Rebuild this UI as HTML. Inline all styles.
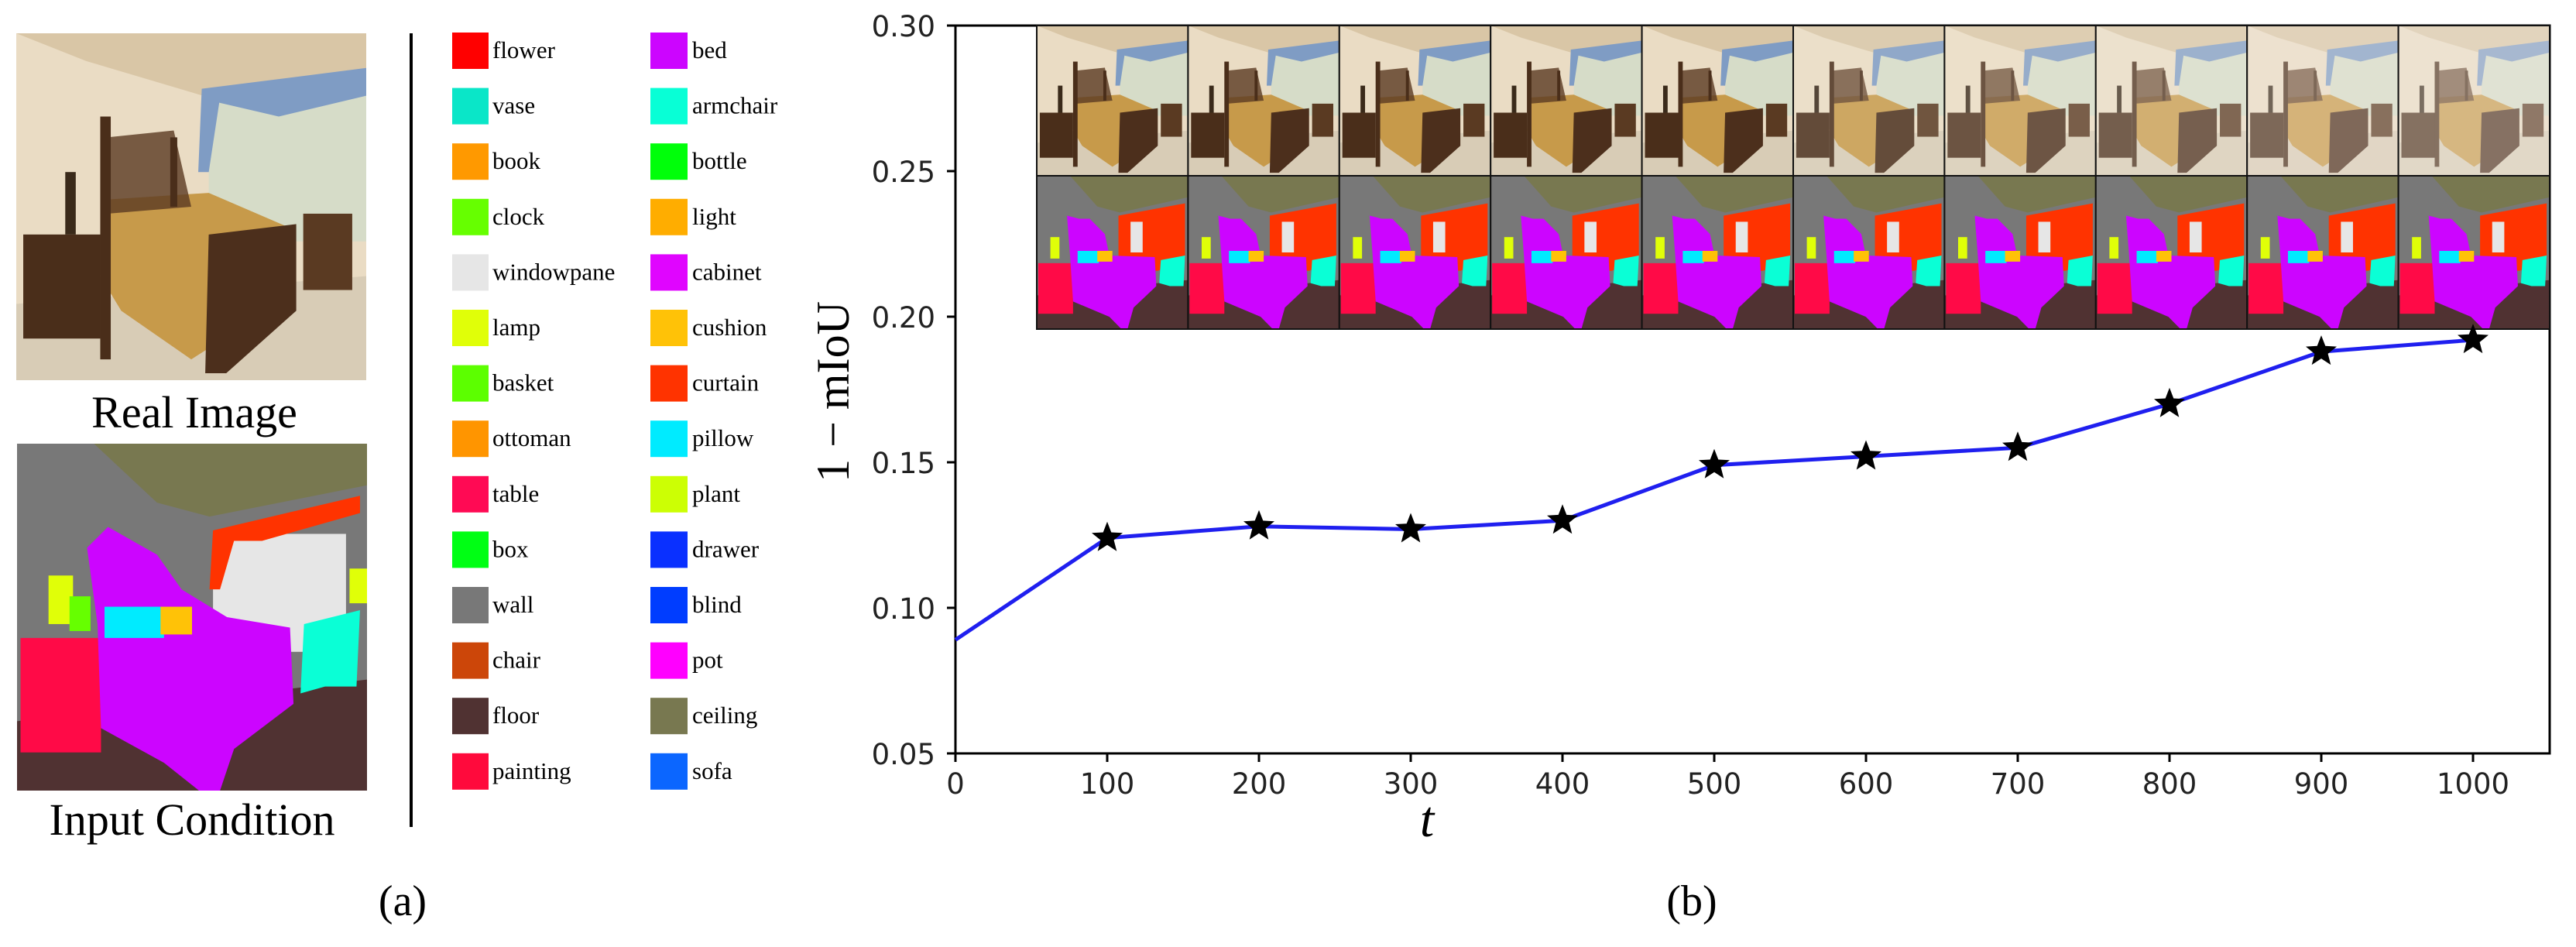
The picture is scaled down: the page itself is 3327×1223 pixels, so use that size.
<!DOCTYPE html>
<html><head><meta charset="utf-8">
<style>
html,body{margin:0;padding:0;background:#fff;width:3327px;height:1223px;overflow:hidden}
svg{display:block}
.ser{font-family:"Liberation Serif","DejaVu Serif",serif}
.san{font-family:"DejaVu Sans","Liberation Sans",sans-serif}
</style></head>
<body>
<svg id="root" width="3327" height="1223" viewBox="0 0 3327 1223" xmlns="http://www.w3.org/2000/svg">
<defs>
  <g id="photo">
    <rect x="0" y="0" width="100" height="100" fill="#eadcc4"/>
    <polygon points="0,0 100,0 100,14 60,20 20,8" fill="#d9c6a6"/>
    <polygon points="55,16 100,12 100,60 55,60" fill="#d6dcc8"/>
    <polygon points="53,16 100,10 100,18 75,24 58,20 55,40 52,40" fill="#7f9cc4"/>
    <polygon points="0,78 100,70 100,100 0,100" fill="#d8ccb6"/>
    <rect x="2" y="58" width="22" height="30" fill="#4a2e1a"/>
    <rect x="14" y="40" width="3" height="18" fill="#3a2a1a"/>
    <polygon points="25,48 55,46 78,56 78,76 50,94 30,80 24,70" fill="#c79a4a"/>
    <polygon points="26,30 45,28 50,50 26,52" fill="#5a3a22" opacity="0.8"/>
    <rect x="24" y="24" width="3" height="70" fill="#4a2e1a"/>
    <rect x="44" y="30" width="2" height="20" fill="#4a2e1a"/>
    <polygon points="55,58 80,55 80,80 60,98 54,98" fill="#4c2f1c"/>
    <rect x="82" y="52" width="14" height="22" fill="#5a3a22"/>
  </g>
  <g id="seg">
    <rect x="0" y="0" width="100" height="100" fill="#787878"/>
    <polygon points="22,0 100,0 100,12 55,21 40,17" fill="#787850"/>
    <rect x="56" y="26" width="38" height="34" fill="#e6e6e6"/>
    <polygon points="56,25 98,15 98,20 70,28 62,28 58,42 55,42" fill="#ff3300"/>
    <polygon points="0,80 100,68 100,100 0,100" fill="#503232"/>
    <rect x="1" y="56" width="23" height="33" fill="#ff0a47"/>
    <polygon points="20,30 26,24 33,28 40,32 47,42 60,50 78,53 79,75 62,88 58,100 52,100 42,92 24,82 23,52" fill="#cc05ff"/>
    <rect x="25" y="47" width="17" height="9" fill="#00ebff"/>
    <rect x="41" y="47" width="9" height="8" fill="#ffc207"/>
    <polygon points="82,52 98,48 97,70 88,70 81,72" fill="#0affd6"/>
    <rect x="9" y="38" width="7" height="14" fill="#e0ff08"/>
    <rect x="95" y="36" width="5" height="10" fill="#e0ff08"/>
    <rect x="15" y="44" width="6" height="10" fill="#66ff00"/>
  </g>
  <g id="tseg">
    <rect x="0" y="0" width="100" height="100" fill="#787878"/>
    <polygon points="22,0 100,0 100,14 55,24 40,20" fill="#787850"/>
    <polygon points="54,26 98,18 98,55 80,62 60,62 54,55" fill="#ff3300"/>
    <rect x="62" y="30" width="8" height="20" fill="#e6e6e6"/>
    <polygon points="0,78 100,68 100,100 0,100" fill="#503232"/>
    <rect x="1" y="57" width="23" height="33" fill="#ff0a47"/>
    <polygon points="20,26 28,28 35,28 45,38 48,52 78,53 79,72 64,86 60,100 56,100 48,92 24,82 22,52" fill="#cc05ff"/>
    <rect x="27" y="49" width="14" height="8" fill="#00ebff"/>
    <rect x="40" y="49" width="10" height="7" fill="#ffc207"/>
    <polygon points="82,55 98,52 97,72 88,72 81,70" fill="#0affd6"/>
    <rect x="9" y="40" width="6" height="14" fill="#e0ff08"/>
  </g>
</defs>

<!-- Panel (a) -->
<g>
  <svg x="21" y="43" width="452" height="448" viewBox="0 0 100 100" preserveAspectRatio="none"><use href="#photo"/></svg>
</g>
<text class="ser" x="251" y="552" font-size="58" text-anchor="middle">Real Image</text>
<g>
  <svg x="22" y="573" width="452" height="448" viewBox="0 0 100 100" preserveAspectRatio="none"><use href="#seg"/></svg>
</g>
<text class="ser" x="248" y="1078" font-size="58" text-anchor="middle">Input Condition</text>
<rect x="529" y="43" width="4" height="1025" fill="#000"/>
<g id="legend"></g>
<text class="ser" x="520" y="1182" font-size="56" text-anchor="middle">(a)</text>

<!-- Panel (b) -->
<g id="chart"></g>
<text class="ser" x="2185" y="1182" font-size="56" text-anchor="middle">(b)</text>
</svg>

<script>
const NS='http://www.w3.org/2000/svg';
// ---- legend data ----
const legendCol1=['flower','vase','book','clock','windowpane','lamp','basket','ottoman','table','box','wall','chair','floor','painting'];
const legendCol1Colors=['#ff0000','#0ae6c8','#ff9900','#66ff00','#e6e6e6','#e0ff08','#5cff00','#ff9500','#ff0a54','#00ff14','#787878','#cc4609','#503232','#ff0a3c'];
const legendCol2=['bed','armchair','bottle','light','cabinet','cushion','curtain','pillow','plant','drawer','blind','pot','ceiling','sofa'];
const legendCol2Colors=['#cc05ff','#08ffd6','#00ff0a','#ffad00','#e005ff','#ffc207','#ff3300','#00ebff','#ccff04','#0a30ff','#003dff','#ff00ff','#787850','#0b66ff'];
// ---- chart data ----
const steps=[0,100,200,300,400,500,600,700,800,900,1000];
const values=[0.089,0.124,0.128,0.127,0.130,0.149,0.152,0.155,0.170,0.188,0.192];
const xTicks=[0,100,200,300,400,500,600,700,800,900,1000];
const yTicks=[0.05,0.10,0.15,0.20,0.25,0.30];
const yTickLabels=['0.05','0.10','0.15','0.20','0.25','0.30'];

function mk(tag,attrs,parent){const e=document.createElementNS(NS,tag);for(const k in attrs)e.setAttribute(k,attrs[k]);parent.appendChild(e);return e;}

// legend
const lg=document.getElementById('legend');
const rowY0=42, rowDy=71.6;
legendCol1.forEach((name,i)=>{
  const y=rowY0+i*rowDy;
  const r=mk('rect',{x:584,y:y,width:47,height:47,fill:legendCol1Colors[i]},lg);
  
  
  const t=mk('text',{x:636,y:y+33,'font-size':31,class:'ser'},lg);
  t.textContent=name;
  
  
});
legendCol2.forEach((name,i)=>{
  const y=rowY0+i*rowDy;
  const r=mk('rect',{x:840,y:y,width:48,height:47,fill:legendCol2Colors[i]},lg);
  
  
  const t=mk('text',{x:894,y:y+33,'font-size':31,class:'ser'},lg);
  t.textContent=name;
  
  
});

// chart
const ch=document.getElementById('chart');
const X0=1234, X1=3194, XR=3293, YT=33, YB=973;
const xs=v=>X0+(v-0)/(1000-0)*(X1-X0);
const ys=v=>YB-(v-0.05)/(0.30-0.05)*(YB-YT);
const ax=mk('path',{d:`M${X0},${YT} L${X0},${YB} L${XR},${YB} L${XR},${YT} L${X0},${YT}`,fill:'none',stroke:'#000','stroke-width':3},ch);


xTicks.forEach(v=>{
  const x=xs(v);
  const tk=mk('line',{x1:x,y1:YB,x2:x,y2:YB+11,stroke:'#000','stroke-width':3},ch);
  
  
  const t=mk('text',{x:x,y:YB+52,'font-size':37,'text-anchor':'middle',class:'san',fill:'#222'},ch);
  t.textContent=String(v);
  
  
});
yTicks.forEach((v,i)=>{
  const y=ys(v);
  const tk=mk('line',{x1:X0-11,y1:y,x2:X0,y2:y,stroke:'#000','stroke-width':3},ch);
  
  
  const t=mk('text',{x:X0-26,y:y+14,'font-size':37,'text-anchor':'end',class:'san',fill:'#222'},ch);
  t.textContent=yTickLabels[i];
  
  
});
const strip=mk('g',{},ch);


const SX=1339, SW=(XR-SX)/10, SY=33, SM=227, SB=425;
for(let i=0;i<10;i++){
  const s1=mk('svg',{x:SX+i*SW,y:SY,width:SW,height:SM-SY,viewBox:'0 0 100 100',preserveAspectRatio:'none'},strip);
  mk('use',{href:'#photo'},s1);
  if(i>=5) mk('rect',{x:0,y:0,width:100,height:100,fill:'#f4efe8',opacity:0.15+0.05*(i-5)},s1);
  
  
  const s2=mk('svg',{x:SX+i*SW,y:SM,width:SW,height:SB-SM,viewBox:'0 0 100 100',preserveAspectRatio:'none'},strip);
  mk('use',{href:'#tseg'},s2);
  
  
  mk('rect',{x:SX+i*SW,y:SY,width:SW,height:SB-SY,fill:'none',stroke:'#111','stroke-width':2},strip);
}
mk('line',{x1:SX,y1:SM,x2:XR,y2:SM,stroke:'#111','stroke-width':2},strip);
const line=mk('polyline',{points:steps.map((s,i)=>xs(s)+','+ys(values[i])).join(' '),fill:'none',stroke:'#1f1fef','stroke-width':5,'stroke-linejoin':'round'},ch);


function star(cx,cy,R,r){let p=[];for(let k=0;k<10;k++){const a=-Math.PI/2+k*Math.PI/5;const rr=k%2?r:R;p.push((cx+rr*Math.cos(a)).toFixed(1)+','+(cy+rr*Math.sin(a)).toFixed(1));}return p.join(' ');}
steps.forEach((s,i)=>{
  if(s===0) return;
  const m=mk('polygon',{points:star(xs(s),ys(values[i]),21,9),fill:'#000'},ch);
  
  
});
const yl=mk('text',{x:0,y:0,'font-size':60,'text-anchor':'middle',class:'ser',transform:`translate(1096,506) rotate(-90)`},ch);
yl.textContent='1 − mIoU';


const xl=mk('text',{x:1843,y:1080,'font-size':66,'text-anchor':'middle','font-style':'italic',class:'ser'},ch);
xl.textContent='t';


</script>
</body></html>
